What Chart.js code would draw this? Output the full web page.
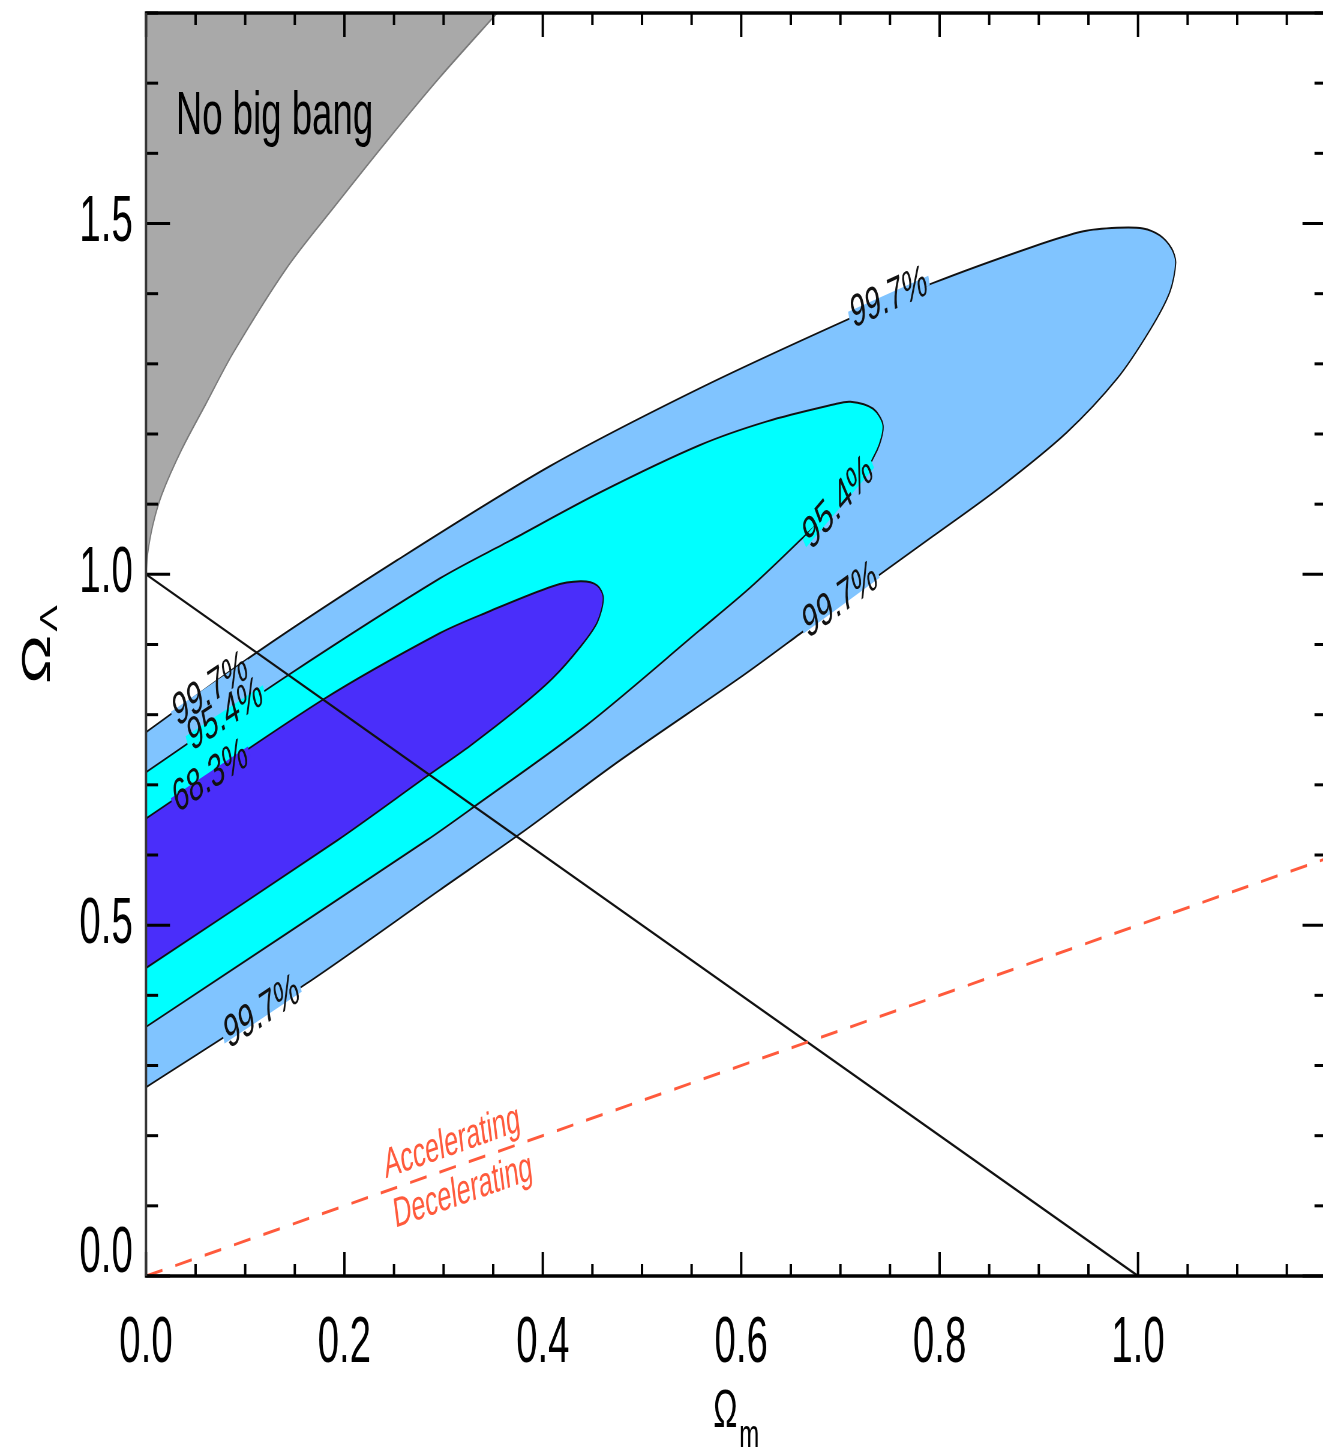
<!DOCTYPE html>
<html>
<head>
<meta charset="utf-8">
<title>Omega_m vs Omega_Lambda</title>
<script src="https://cdn.jsdelivr.net/npm/chart.js@4.4.1/dist/chart.umd.min.js"></script>
<style>
  html, body { margin: 0; padding: 0; overflow: hidden; background: #fff; }
  #chart { display: block; }
</style>
</head>
<body>
<!-- the figure is drawn wide and shown narrow: same condensed look as the original -->
<canvas id="chart" width="2240" height="1447" style="width:1344px;height:1447px"></canvas>
<script>
// ---- values ----
const omegaMRange = [0, 1.19];
const omegaLRange = [0, 1.8];
const xTickLabels = ['0.0', '0.2', '0.4', '0.6', '0.8', '1.0'];
const yTickLabels = ['0.0', '0.5', '1.0', '1.5'];

// 99.7% confidence contour
const c997Om = [0.000, 0.112, 0.253, 0.407, 0.558, 0.707, 0.793, 0.894, 0.945, 0.979, 1.005, 1.022, 1.034, 1.038,
                1.032, 1.012, 0.979, 0.928, 0.861, 0.793, 0.740, 0.659, 0.602, 0.478, 0.377, 0.296, 0.162, 0.000];
const c997Ol = [0.775, 0.889, 1.020, 1.154, 1.265, 1.363, 1.415, 1.467, 1.489, 1.494, 1.493, 1.483, 1.464, 1.444,
                1.402, 1.348, 1.279, 1.202, 1.124, 1.054, 1.000, 0.915, 0.856, 0.735, 0.630, 0.550, 0.417, 0.269];

// 95.4% contour
const c954Om = [0.000, 0.143, 0.296, 0.367, 0.458, 0.558, 0.626, 0.693, 0.710, 0.733, 0.743,
                0.737, 0.715, 0.659, 0.609, 0.558, 0.445, 0.330, 0.283, 0.000];
const c954Ol = [0.718, 0.856, 0.994, 1.048, 1.117, 1.184, 1.218, 1.242, 1.246, 1.236, 1.212,
                1.177, 1.127, 1.048, 0.981, 0.920, 0.786, 0.668, 0.621, 0.355];

// 68.3% contour
const c683Om = [0.000, 0.178, 0.296, 0.344, 0.410, 0.438, 0.455, 0.461,
                0.455, 0.438, 0.410, 0.377, 0.327, 0.283, 0.193, 0.000];
const c683Ol = [0.652, 0.821, 0.916, 0.946, 0.983, 0.990, 0.984, 0.966,
                0.932, 0.897, 0.852, 0.811, 0.756, 0.712, 0.621, 0.439];

// "No big bang" region: top-left corner, then the boundary curve up to the top axis
const noBangOm = [0.000, 0.000, 0.0015, 0.007, 0.016, 0.036, 0.060, 0.088, 0.142, 0.191, 0.243, 0.296, 0.354];
const noBangOl = [1.800, 1.000, 1.028, 1.071, 1.114, 1.178, 1.242, 1.316, 1.437, 1.526, 1.618, 1.708, 1.800];

// flat universe line and acceleration boundary
const flatOm = [0, 1];
const flatOl = [1, 0];
const accelOm = [0, 1.19];
const accelOl = [0, 0.595];

// contour labels: text, position, which contour (0 = 99.7, 1 = 95.4, 2 = 68.3)
const contourLabelText = ['99.7%', '95.4%', '99.7%', '99.7%', '95.4%', '68.3%', '99.7%'];
const contourLabelOm = [0.749, 0.698, 0.700, 0.065, 0.080, 0.065, 0.117];
const contourLabelOl = [1.393, 1.101, 0.962, 0.835, 0.799, 0.711, 0.375];
const contourLabelSet = [0, 1, 0, 0, 1, 2, 0];

const noBangText = 'No big bang';
const noBangTextPos = [0.030, 1.628];
const accelText = ['Accelerating', 'Decelerating'];
const accelTextOm = [0.3085, 0.3196];
const accelTextOl = [0.1895, 0.1197];

// ---- styles ----
const FONT = '"Liberation Sans", Arial, Helvetica, sans-serif';
const C997 = '#80c4ff';
const C954 = '#00ffff';
const C683 = '#4a2efa';
const GREY = '#a9a9a9';
const RED = '#ff5a3c';

const pts = (xs, ys) => xs.map((x, i) => ({ x, y: ys[i] }));
const contours = [[c997Om, c997Ol, C997], [c954Om, c954Ol, C954], [c683Om, c683Ol, C683]];

function labelFor(list, v) {
  const hit = list.find(s => Math.abs(parseFloat(s) - v) < 1e-6);
  return hit === undefined ? '' : hit;
}

// frame with inward ticks on all four sides (IDL style)
const framePlugin = {
  id: 'frame',
  afterDatasetsDraw(chart) {
    const { ctx, chartArea: a, scales: { x, y } } = chart;
    ctx.save();
    ctx.strokeStyle = '#000';
    ctx.lineCap = 'butt';
    const seg = (x1, y1, x2, y2) => { ctx.beginPath(); ctx.moveTo(x1, y1); ctx.lineTo(x2, y2); ctx.stroke(); };

    ctx.lineWidth = 4;
    x.ticks.forEach(t => {
      const px = x.getPixelForValue(t.value);
      const len = Math.round(t.value * 20) % 4 === 0 ? 24 : 12;
      seg(px, a.bottom, px, a.bottom - len);
      seg(px, a.top, px, a.top + len);
    });
    ctx.lineWidth = 3;
    y.ticks.forEach(t => {
      const py = y.getPixelForValue(t.value);
      const len = Math.round(t.value * 10) % 5 === 0 ? 40 : 20;
      seg(a.left, py, a.left + len, py);
      seg(a.right, py, a.right - len, py);
    });

    ctx.lineWidth = 3.5;
    seg(a.left - 2, a.bottom, a.right, a.bottom);
    seg(a.left - 2, a.top, a.right, a.top);
    ctx.lineWidth = 4;
    ctx.strokeStyle = '#333';
    seg(a.left, a.top, a.left, a.bottom);
    seg(a.right, a.top, a.right, a.bottom);
    ctx.restore();
  }
};

// text on the plot: region name, contour levels, acceleration line, axis titles
const textPlugin = {
  id: 'texts',
  afterDatasetsDraw(chart) {
    const { ctx, chartArea: a, scales: { x, y } } = chart;
    const X = v => x.getPixelForValue(v);
    const Y = v => y.getPixelForValue(v);
    ctx.save();

    ctx.fillStyle = '#000';
    ctx.font = `61px ${FONT}`;
    ctx.textAlign = 'left';
    ctx.textBaseline = 'alphabetic';
    ctx.fillText(noBangText, X(noBangTextPos[0]), Y(noBangTextPos[1]));

    contourLabelText.forEach((txt, i) => {
      const [xs, ys, col] = contours[contourLabelSet[i]];
      const px = X(contourLabelOm[i]), py = Y(contourLabelOl[i]);
      let best = 0, bd = Infinity;
      xs.forEach((v, j) => {
        const d = (X(v) - px) ** 2 + (Y(ys[j]) - py) ** 2;
        if (d < bd) { bd = d; best = j; }
      });
      const j0 = Math.max(0, best - 1), j1 = Math.min(xs.length - 1, best + 1);
      let ang = Math.atan2(Y(ys[j1]) - Y(ys[j0]), X(xs[j1]) - X(xs[j0]));
      if (ang > Math.PI / 2) ang -= Math.PI;
      if (ang < -Math.PI / 2) ang += Math.PI;
      ctx.save();
      ctx.translate(px, py);
      ctx.rotate(ang);
      ctx.font = `46px ${FONT}`;
      const w = ctx.measureText(txt).width;
      ctx.fillStyle = col;
      ctx.fillRect(-w / 2 - 4, -5, w + 8, 10);
      ctx.fillStyle = '#111';
      ctx.textAlign = 'center';
      ctx.textBaseline = 'middle';
      ctx.fillText(txt, 0, 0);
      ctx.restore();
    });

    const accAng = Math.atan2(Y(accelOl[1]) - Y(accelOl[0]), X(accelOm[1]) - X(accelOm[0]));
    accelText.forEach((txt, i) => {
      ctx.save();
      ctx.translate(X(accelTextOm[i]), Y(accelTextOl[i]));
      ctx.rotate(accAng);
      ctx.font = `42px ${FONT}`;
      ctx.fillStyle = RED;
      ctx.textAlign = 'center';
      ctx.textBaseline = 'middle';
      ctx.fillText(txt, 0, 0);
      ctx.restore();
    });

    // axis titles with subscripts
    ctx.fillStyle = '#000';
    ctx.textAlign = 'left';
    ctx.textBaseline = 'alphabetic';
    ctx.font = `54px ${FONT}`;
    const wO = ctx.measureText('Ω').width;
    ctx.font = `40px ${FONT}`;
    const wm = ctx.measureText('m').width;
    const xs0 = (a.left + a.right) / 2 - (wO + wm + 3) / 2;
    ctx.font = `54px ${FONT}`;
    ctx.fillText('Ω', xs0, 1427);
    ctx.font = `40px ${FONT}`;
    ctx.fillText('m', xs0 + wO + 3, 1448);

    ctx.save();
    ctx.translate(83, (a.top + a.bottom) / 2);
    ctx.rotate(-Math.PI / 2);
    ctx.font = `66px ${FONT}`;
    const wO2 = ctx.measureText('Ω').width;
    ctx.font = `40px ${FONT}`;
    const wL = ctx.measureText('Λ').width;
    const s0 = -(wO2 + wL + 3) / 2;
    ctx.font = `66px ${FONT}`;
    ctx.fillText('Ω', s0, 0);
    ctx.font = `40px ${FONT}`;
    ctx.fillText('Λ', s0 + wO2 + 3, 12);
    ctx.restore();

    ctx.restore();
  }
};

const lineBase = { showLine: true, pointRadius: 0, pointHoverRadius: 0 };

new Chart(document.getElementById('chart'), {
  type: 'scatter',
  data: {
    datasets: [
      { ...lineBase, label: 'Accelerating / Decelerating', data: pts(accelOm, accelOl),
        borderColor: RED, borderWidth: 3, borderDash: [28, 22], fill: false },
      { ...lineBase, label: 'Flat', data: pts(flatOm, flatOl),
        borderColor: '#111', borderWidth: 2.5, fill: false },
      { ...lineBase, label: '68.3%', data: pts(c683Om, c683Ol),
        borderColor: '#111', borderWidth: 2, backgroundColor: C683, fill: 'shape', tension: 0.3 },
      { ...lineBase, label: '95.4%', data: pts(c954Om, c954Ol),
        borderColor: '#111', borderWidth: 2, backgroundColor: C954, fill: 'shape', tension: 0.3 },
      { ...lineBase, label: '99.7%', data: pts(c997Om, c997Ol),
        borderColor: '#111', borderWidth: 2, backgroundColor: C997, fill: 'shape', tension: 0.3 },
      { ...lineBase, label: 'No big bang', data: pts(noBangOm, noBangOl),
        borderColor: '#7a7a7a', borderWidth: 2, backgroundColor: GREY, fill: 'shape', tension: 0.3 }
    ]
  },
  options: {
    responsive: false,
    devicePixelRatio: 1,
    animation: false,
    events: [],
    layout: { autoPadding: false, padding: { top: 13, right: 29.2, left: 0, bottom: 0 } },
    plugins: { legend: { display: false }, tooltip: { enabled: false } },
    scales: {
      x: {
        type: 'linear', min: omegaMRange[0], max: omegaMRange[1],
        grid: { display: false }, border: { display: false },
        ticks: {
          stepSize: 0.05, includeBounds: false, autoSkip: false, maxRotation: 0, minRotation: 0,
          padding: 22, color: '#000', font: { family: FONT, size: 64 },
          callback: v => labelFor(xTickLabels, v)
        },
        afterFit: s => { s.height = 171; s.paddingLeft = 0; s.paddingRight = 0; }
      },
      y: {
        type: 'linear', min: omegaLRange[0], max: omegaLRange[1],
        grid: { display: false }, border: { display: false },
        ticks: {
          stepSize: 0.1, includeBounds: false, autoSkip: false,
          padding: 14, color: '#000', font: { family: FONT, size: 64, lineHeight: '44px' },
          // the 0.0 label sits above the corner, as in the original
          callback: v => { const s = labelFor(yTickLabels, v); return (s && v === 0) ? [s, ''] : s; }
        },
        afterFit: s => { s.width = 243.3; s.paddingTop = 0; s.paddingBottom = 0; }
      }
    }
  },
  plugins: [framePlugin, textPlugin]
});
</script>
</body>
</html>
